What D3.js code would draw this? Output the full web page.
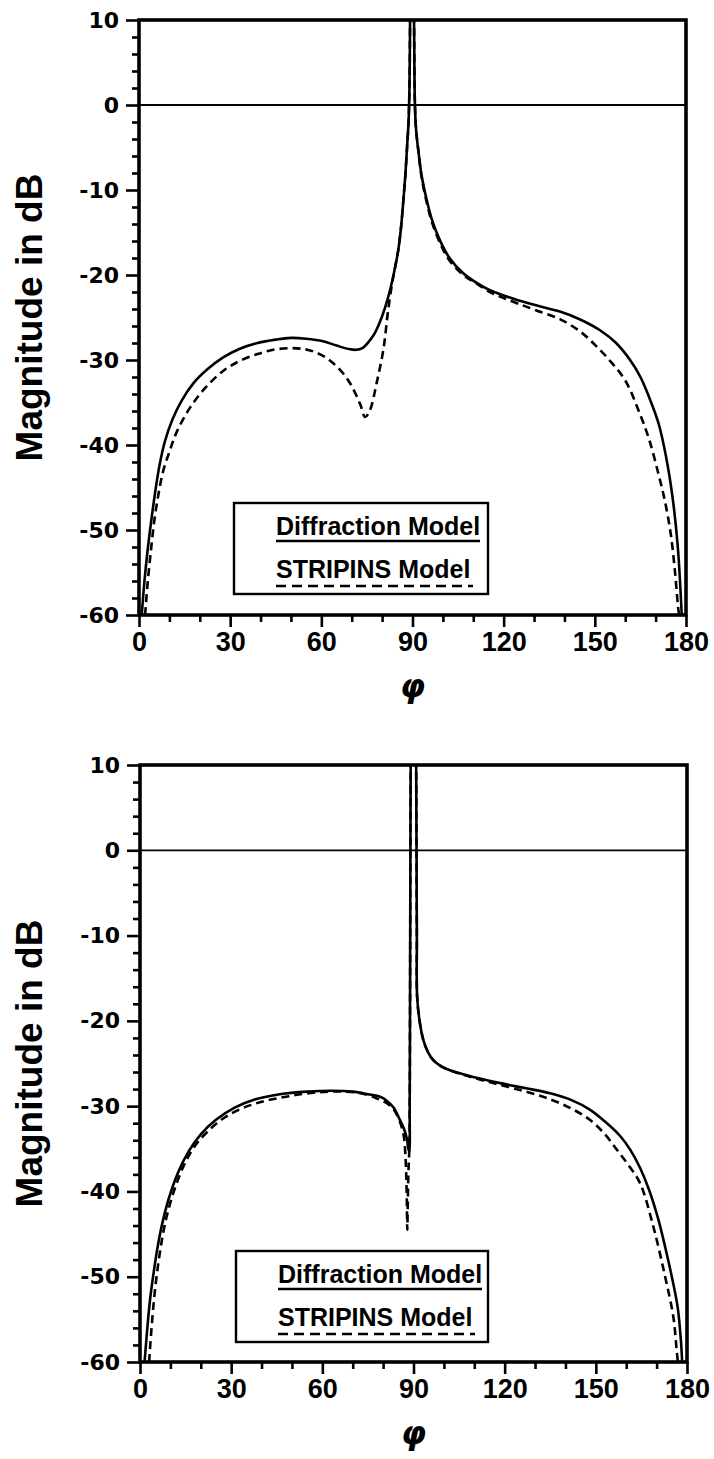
<!DOCTYPE html>
<html>
<head>
<meta charset="utf-8">
<script src="https://cdn.jsdelivr.net/npm/d3@7"></script>
<style>
  body { margin: 0; background: #fff; }
  svg { display: block; }
</style>
</head>
<body>
<script>
'use strict';

// ---- values (phi in degrees, magnitude in dB) ----

// upper panel, diffraction model (solid)
const phiTopSolid = [0.9, 1.8, 2.8, 4.0, 5.3, 6.8, 8.5, 11, 14, 18, 22.5, 27.7, 33, 39, 45, 50, 55, 60.6, 65, 69, 71.5, 73.5, 75.5, 77.5, 79.3, 81, 82.6, 84, 85.3, 86.2, 87.0, 87.7, 88.2, 88.7, 89.0, 89.2, 89.3, 89.8, 90.3, 90.5, 90.8, 91.2, 91.9, 93, 94.7, 96.5, 99, 102, 106.7, 111, 115.5, 120, 125, 131, 138.5, 145, 151.7, 157, 161.6, 165, 168, 171, 173.5, 175.7, 177.3, 178.6];
const dbTopSolid = [-60, -56, -52.5, -49, -45.6, -42.3, -39.6, -37, -34.8, -32.7, -31.1, -29.7, -28.7, -28.0, -27.6, -27.4, -27.5, -27.8, -28.3, -28.7, -28.8, -28.6, -27.9, -26.9, -25.5, -23.8, -21.8, -19.6, -17.1, -14.5, -11.2, -8, -5, -2, 2, 10, 14, 30, 14, 10, 0, -3, -5.3, -8.3, -11.2, -13.6, -15.9, -17.9, -19.8, -20.9, -21.8, -22.4, -23, -23.6, -24.3, -25.2, -26.5, -28, -30, -32, -34.5, -37.5, -41.5, -46.5, -52, -60];

// upper panel, STRIPINS model (dashed)
const phiTopDash = [2, 2.9, 3.9, 5.0, 6.4, 8.0, 10, 12.5, 16.8, 22, 28, 33.2, 39, 44.2, 49.7, 54, 57.4, 61, 64, 67, 69.4, 71.3, 72.9, 74.4, 76.0, 78.2, 80.4, 82.0, 83.2, 84, 85.3, 86.2, 87.0, 87.7, 88.2, 88.7, 89.0, 89.2, 89.3, 89.8, 90.3, 90.5, 90.8, 91.2, 91.9, 93, 94.7, 96.5, 99, 102, 106.7, 111, 115.5, 120, 125, 131, 138.5, 145, 150, 155, 160, 165, 168, 171, 173, 175, 176.4, 177.5, 177.8];
const dbTopDash = [-60, -56, -52.5, -49, -45.8, -43, -40.8, -38.4, -35.6, -33.2, -31.2, -30.1, -29.3, -28.8, -28.6, -28.7, -29.0, -29.6, -30.4, -31.5, -32.7, -34, -35.3, -36.7, -35.9, -32.7, -28.8, -24.1, -21.2, -19.6, -17.1, -14.5, -11.2, -8, -5, -2, 2, 10, 14, 30, 14, 10, 0, -3, -5.3, -8.5, -11.5, -13.9, -16.2, -18.2, -20.0, -21.0, -22, -22.7, -23.4, -24.2, -25.2, -26.6, -28.2, -30.1, -32.4, -36.5, -39.5, -43.5, -46.5, -50.5, -55, -59.4, -60];

// lower panel, diffraction model (solid)
const phiBotSolid = [1.5, 2.3, 3.3, 4.5, 5.8, 7.3, 9.5, 12.5, 16, 20, 25, 31, 38, 46, 55, 63, 70, 75, 79, 81, 83.5, 85.5, 86.8, 87.8, 88.3, 88.6, 88.75, 88.85, 88.95, 89.05, 89.2, 90.0, 90.8, 90.9, 91.0, 91.1, 91.2, 92.0, 93.2, 94.8, 96.5, 99, 102, 110, 118.5, 127, 135, 142, 148, 153, 158, 161.3, 164.5, 167.5, 170.5, 173, 175, 176.9, 178, 178.4];
const dbBotSolid = [-60, -56.5, -52.7, -49.5, -46.5, -43.8, -40.8, -37.8, -35.3, -33.3, -31.6, -30.2, -29.2, -28.6, -28.3, -28.2, -28.3, -28.6, -28.9, -29.3, -30.2, -31.6, -32.6, -33.8, -35.0, -35.3, -30, -20, -5, 8, 14, 30, 14, 8, 0, -10, -17.2, -20.0, -22.2, -23.7, -24.6, -25.3, -25.8, -26.6, -27.3, -27.9, -28.5, -29.3, -30.4, -31.8, -33.5, -35.1, -37.2, -39.8, -43.2, -46.8, -50.0, -53.5, -57.5, -60];

// lower panel, STRIPINS model (dashed)
const phiBotDash = [3, 3.8, 4.8, 6, 7.4, 9, 11.5, 14.5, 18, 22.5, 28, 34, 41, 48, 55, 62, 68, 74, 78, 81, 83.5, 85.5, 86.8, 87.3, 87.6, 87.8, 87.95, 88.1, 88.3, 88.6, 88.75, 88.85, 88.95, 89.05, 89.2, 90.0, 90.8, 90.9, 91.0, 91.1, 91.2, 92.0, 93.2, 94.8, 96.5, 99, 102, 110, 118.5, 127, 135, 142, 148, 153, 156.9, 160.5, 164.5, 168.9, 172.8, 175.5, 176.6, 177];
const dbBotDash = [-60, -56, -52, -48.5, -45.3, -42.6, -39.6, -36.9, -34.7, -32.9, -31.3, -30.2, -29.4, -28.9, -28.5, -28.3, -28.3, -28.6, -29.1, -29.6, -30.4, -31.8, -33.5, -35.5, -38, -41, -44.5, -42, -38, -35.3, -30, -20, -5, 8, 14, 30, 14, 8, 0, -10, -17.2, -20.0, -22.2, -23.7, -24.6, -25.3, -25.8, -26.7, -27.5, -28.3, -29.2, -30.3, -31.6, -33.3, -35.1, -36.8, -39, -44.1, -50, -54.7, -58.6, -60];

const xTicks = [0, 30, 60, 90, 120, 150, 180];
const xMinorTicks = [10, 20, 40, 50, 70, 80, 100, 110, 130, 140, 160, 170];
const yTicks = [10, 0, -10, -20, -30, -40, -50, -60];
const yMinorTicks = [8, 6, 4, 2, -2, -4, -6, -8, -12, -14, -16, -18, -22, -24, -26, -28, -32, -34, -36, -38, -42, -44, -46, -48, -52, -54, -56, -58];
const legendLabels = ['Diffraction Model', 'STRIPINS Model'];
const yTitle = 'Magnitude in dB';
const xTitle = '\u03c6';

const svg = d3.select('body').append('svg')
  .attr('width', 714)
  .attr('height', 1459)
  .style('background', '#fff');

// draw one of the two panels
function drawPanel(p) {
  let g = svg.append('g');

  let x = d3.scaleLinear().domain([0, 180]).range([p.left, p.right]);
  let y = d3.scaleLinear().domain([-60, 10]).range([p.bottom, p.top]);

  // clip so the spike at 90 deg stops at the frame
  g.append('clipPath')
    .attr('id', p.id)
    .append('rect')
    .attr('x', p.left).attr('y', p.top)
    .attr('width', p.right - p.left).attr('height', p.bottom - p.top);

  // minor ticks
  g.append('g')
    .attr('transform', `translate(${p.left},0)`)
    .call(d3.axisLeft(y).tickValues(yMinorTicks).tickSize(7).tickFormat(''));
  g.append('g')
    .attr('transform', `translate(0,${p.bottom})`)
    .call(d3.axisBottom(x).tickValues(xMinorTicks).tickSize(7).tickFormat(''));

  // major ticks and labels
  g.append('g')
    .attr('class', 'yaxis')
    .attr('transform', `translate(${p.left},0)`)
    .call(d3.axisLeft(y).tickValues(yTicks).tickSize(13).tickPadding(7).tickFormat(d => String(d)));
  g.append('g')
    .attr('class', 'xaxis')
    .attr('transform', `translate(0,${p.bottom})`)
    .call(d3.axisBottom(x).tickValues(xTicks).tickSize(12).tickPadding(5).tickFormat(d => String(d)));

  g.selectAll('.domain').remove();
  g.selectAll('.tick line').attr('stroke', '#000').attr('stroke-width', 2.6);
  g.selectAll('.yaxis .tick text')
    .attr('fill', '#000')
    .style('font-family', '"DejaVu Sans", sans-serif')
    .style('font-weight', 'bold')
    .style('font-size', '22px');
  g.selectAll('.xaxis .tick text')
    .attr('fill', '#000')
    .style('font-family', '"Liberation Sans", Arial, sans-serif')
    .style('font-weight', 'bold')
    .style('font-size', '27px');

  // 0 dB reference line
  g.append('line')
    .attr('x1', p.left).attr('x2', p.right)
    .attr('y1', y(0)).attr('y2', y(0))
    .attr('stroke', '#000').attr('stroke-width', 1.8);

  let line = d3.line()
    .x(d => x(d[0]))
    .y(d => y(d[1]))
    .curve(d3.curveCatmullRom.alpha(0.5));

  let curves = g.append('g').attr('clip-path', `url(#${p.id})`);

  curves.append('path')
    .datum(d3.zip(p.dashPhi, p.dashDb))
    .attr('d', line)
    .attr('fill', 'none')
    .attr('stroke', '#000')
    .attr('stroke-width', 2.6)
    .attr('stroke-dasharray', '8,5');

  curves.append('path')
    .datum(d3.zip(p.solidPhi, p.solidDb))
    .attr('d', line)
    .attr('fill', 'none')
    .attr('stroke', '#000')
    .attr('stroke-width', 2.6);

  // heavy frame
  g.append('rect')
    .attr('x', p.left).attr('y', p.top)
    .attr('width', p.right - p.left).attr('height', p.bottom - p.top)
    .attr('fill', 'none')
    .attr('stroke', '#000')
    .attr('stroke-width', 3.6);

  // axis titles
  g.append('text')
    .attr('transform', `translate(42,${(p.top + p.bottom) / 2}) rotate(-90)`)
    .attr('text-anchor', 'middle')
    .style('font-family', '"Liberation Sans", Arial, sans-serif')
    .style('font-weight', 'bold')
    .style('font-size', '37px')
    .text(yTitle);

  g.append('text')
    .attr('x', x(90))
    .attr('y', p.bottom + 82)
    .attr('text-anchor', 'middle')
    .style('font-family', '"DejaVu Sans", sans-serif')
    .style('font-weight', 'bold')
    .style('font-style', 'italic')
    .style('font-size', '32px')
    .text(xTitle);

  // legend
  let lg = p.legend;
  g.append('rect')
    .attr('x', lg.x).attr('y', lg.y)
    .attr('width', lg.w).attr('height', lg.h)
    .attr('fill', '#fff')
    .attr('stroke', '#000')
    .attr('stroke-width', 2.4);

  legendLabels.forEach((label, i) => {
    let base = lg.y + 32 + i * 43;
    g.append('text')
      .attr('x', lg.x + 42)
      .attr('y', base)
      .style('font-family', '"Liberation Sans", Arial, sans-serif')
      .style('font-weight', 'bold')
      .style('font-size', '25px')
      .text(label);
    g.append('line')
      .attr('x1', lg.x + 42)
      .attr('x2', i === 0 ? lg.x + 246 : lg.x + 239)
      .attr('y1', base + 6 + i * 2).attr('y2', base + 6 + i * 2)
      .attr('stroke', '#000')
      .attr('stroke-width', 2.4)
      .attr('stroke-dasharray', i === 0 ? null : '10,6');
  });
}

drawPanel({
  id: 'clipTop',
  left: 139, right: 686, top: 20, bottom: 615,
  solidPhi: phiTopSolid, solidDb: dbTopSolid,
  dashPhi: phiTopDash, dashDb: dbTopDash,
  legend: { x: 234, y: 503, w: 254, h: 91 }
});

drawPanel({
  id: 'clipBottom',
  left: 140, right: 687, top: 765, bottom: 1362,
  solidPhi: phiBotSolid, solidDb: dbBotSolid,
  dashPhi: phiBotDash, dashDb: dbBotDash,
  legend: { x: 236, y: 1251, w: 252, h: 91 }
});
</script>
</body>
</html>
